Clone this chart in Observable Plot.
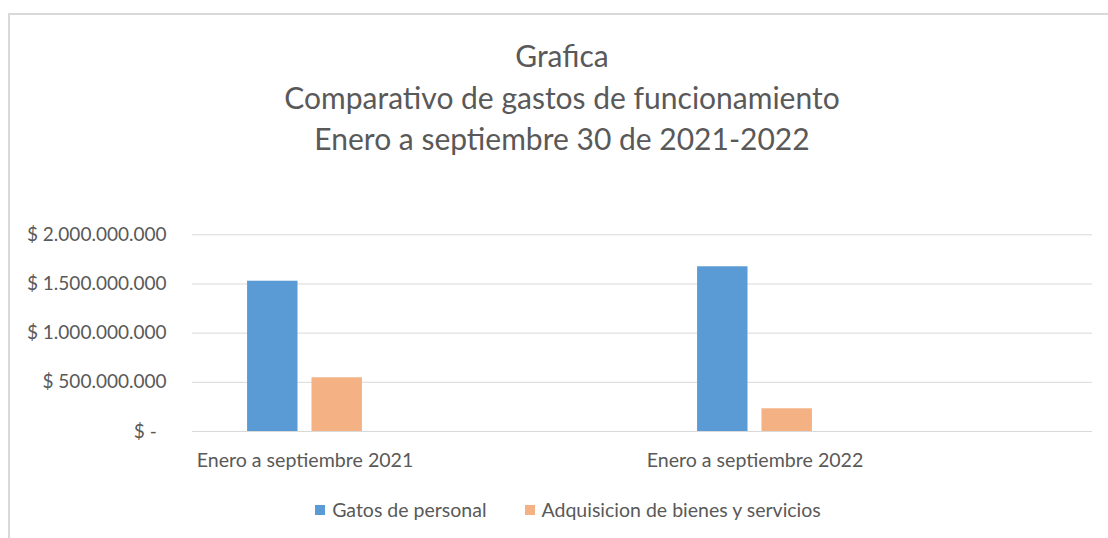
<!DOCTYPE html>
<html><head><meta charset="utf-8">
<script src="https://cdn.jsdelivr.net/npm/d3@7"></script>
<script src="https://cdn.jsdelivr.net/npm/@observablehq/plot@0.6"></script>
<style>
html,body{margin:0;padding:0;background:#fff;width:1108px;height:538px;overflow:hidden;font-family:Lato,"Open Sans",sans-serif;color:#595959}
#frame{position:absolute;left:8px;top:13px;width:1200px;height:600px;border-top:2px solid #d9d9d9;border-left:2px solid #d9d9d9;box-sizing:border-box}
#title{position:absolute;left:0;width:1124px;top:35px;text-align:center;font-size:30px;line-height:41.5px;white-space:nowrap}
#chart{position:absolute;left:0;top:200px}
#legend{position:absolute;top:498px;left:0;width:1136px;display:flex;justify-content:center;align-items:center;font-size:19.5px;line-height:24px;gap:38px}
#legend .item{display:flex;align-items:center}
#legend .sw{width:10px;height:10px;margin-right:7px}
</style></head>
<body>
<div id="frame"></div>
<div id="title"></div>
<div id="chart"></div>
<div id="legend"></div>
<script>
// ---- data ----
const titleLines = ["Grafica", "Comparativo de gastos de funcionamiento", "Enero a septiembre 30 de 2021-2022"];
const categoryKeys = ["c2021", "vacio1", "c2022", "vacio2"];
const categoryLabels = ["Enero a septiembre 2021", "", "Enero a septiembre 2022", ""];
const series = ["Gatos de personal", "Adquisicion de bienes y servicios"];
const seriesColors = ["#5b9bd5", "#f4b183"];
const gastosPersonal = [1528000000, null, 1675000000, null];
const adquisicionBienes = [546000000, null, 231000000, null];
const yTicks = [0, 500000000, 1000000000, 1500000000, 2000000000];

// ---- tables ----
const rows = [];
categoryKeys.forEach((c, i) => {
  if (gastosPersonal[i] != null) rows.push({cat: c, serie: series[0], valor: gastosPersonal[i]});
  if (adquisicionBienes[i] != null) rows.push({cat: c, serie: series[1], valor: adquisicionBienes[i]});
});
const grid = categoryKeys.flatMap(c => yTicks.map(v => ({cat: c, v})));
const labelOf = Object.fromEntries(categoryKeys.map((k, i) => [k, categoryLabels[i]]));

document.getElementById("title").innerHTML = titleLines.map(t => `<div>${t}</div>`).join("");
document.getElementById("legend").innerHTML = series.map((s, i) =>
  `<div class="item"><span class="sw" style="background:${seriesColors[i]}"></span><span>${s}</span></div>`).join("");

const fmt = d => d === 0 ? "$ -\u00a0\u00a0" : "$ " + d3.format(",")(d).replace(/,/g, ".");

const chart = Plot.plot({
  width: 1108, height: 290,
  marginTop: 34.3, marginBottom: 59, marginLeft: 191.7, marginRight: 15.3,
  style: {background: "transparent", fontFamily: "Lato, 'Open Sans', sans-serif", fontSize: "19px", color: "#595959", overflow: "visible"},
  fx: {domain: categoryKeys, padding: 0, label: null, axis: null},
  x: {domain: series, paddingInner: 0.217, paddingOuter: 0.855, round: false, axis: null},
  y: {domain: [0, 2000000000], ticks: yTicks, tickFormat: fmt, label: null, tickSize: 0, tickPadding: 26},
  color: {domain: series, range: seriesColors},
  marks: [
    Plot.ruleY(grid, {fx: "cat", y: "v", stroke: "#d9d9d9", strokeWidth: 1}),
    Plot.barY(rows, {fx: "cat", x: "serie", y: "valor", fill: "serie"}),
    Plot.axisFx({anchor: "bottom", tickSize: 0, tickPadding: 22, label: null, fontSize: 19.6, tickFormat: k => labelOf[k]})
  ]
});
document.getElementById("chart").appendChild(chart);
</script>
</body></html>
